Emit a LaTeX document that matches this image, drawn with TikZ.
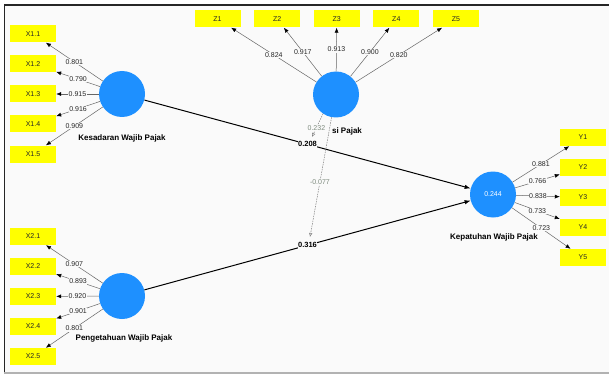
\documentclass[tikz,border=0pt]{standalone}
\usepackage{fontspec}
\setmainfont{Liberation Sans}
\usetikzlibrary{arrows.meta,positioning}

\definecolor{latentblue}{RGB}{30,144,255}
\definecolor{itemyellow}{RGB}{255,255,0}
\definecolor{canvasgray}{RGB}{250,250,250}
\definecolor{modgray}{RGB}{125,138,125}

\begin{document}
\begin{tikzpicture}
        [
            x = 1pt, y = -1pt,
            boxed/.style      = {shape=rectangle, fill=itemyellow, minimum width=46pt, minimum height=17pt, inner sep=0pt, text=black!85},
            latent/.style     = {shape=circle, fill=latentblue, minimum size=46pt, inner sep=0pt, text=white},
            lvname/.style     = {font=\fontsize{8}{9}\selectfont\bfseries},
            loading/.style    = {draw=black!60, line width=0.5pt, -{Latex[length=5pt,width=4pt,color=black]}},
            loadtext/.style   = {fill=canvasgray, inner sep=0.6pt, text=black!85},
            structural/.style = {draw, line width=1pt, -{Latex[length=6pt,width=4.5pt]}},
            coef/.style       = {fill=canvasgray, inner sep=0.6pt, font=\fontsize{7.5}{9}\selectfont\bfseries},
            moderation/.style = {draw=gray, dash pattern=on 1.5pt off 1pt, line width=0.5pt, -{Latex[open,length=4pt,width=3.5pt]}},
            modcoef/.style    = {fill=canvasgray, inner sep=0.6pt, text=modgray},
            every node/.style = {font=\fontsize{7}{8}\selectfont},
        ]
        \useasboundingbox (0,0) rectangle (609,374);
        % canvas and frame
        \fill [canvasgray] (4.5,4.5) rectangle (609,372.5);
        \draw [black!85, line width=1.8pt] (4,4.7) -- (609,4.7);
        \draw [black!85, line width=1pt] (4.5,4) -- (4.5,373);
        \draw [black!30, line width=1.5pt] (4,373.2) -- (609,373.2);

        % latent variables
        \node [latent] (kesadaran)   at (122,94)    {};
        \node [latent] (pengetahuan) at (122,296)   {};
        \node [latent] (moderator)   at (336,94.5)  {};
        \node [latent] (kepatuhan)   at (493,194.5) {0.244};
        \node [lvname] (kesadaran-name)   at (122,138) {Kesadaran Wajib Pajak};
        \node [lvname] (pengetahuan-name) at (124,338) {Pengetahuan Wajib Pajak};
        \node [lvname] (moderator-name)   at (347,131) {si Pajak};
        \node [lvname] (kepatuhan-name)   at (494,237) {Kepatuhan Wajib Pajak};

        % indicators
        \foreach \i in {1,...,5} {
            \node [boxed] (x1-\i) at (33,{34+30*(\i-1)})      {X1.\i};
            \node [boxed] (x2-\i) at (33,{236.5+30*(\i-1)})   {X2.\i};
            \node [boxed] (z-\i)  at ({217.5+59.6*(\i-1)},19) {Z\i};
            \node [boxed] (y-\i)  at (583,{137.5+30*(\i-1)})  {Y\i};
        }

        % outer loadings
        \foreach \i/\w in {1/0.801, 2/0.790, 3/0.915, 4/0.916, 5/0.909}
            \draw [loading] (kesadaran) -- node [loadtext] {\w} (x1-\i);
        \foreach \i/\w in {1/0.907, 2/0.893, 3/0.920, 4/0.901, 5/0.801}
            \draw [loading] (pengetahuan) -- node [loadtext] {\w} (x2-\i);
        \foreach \i/\w in {1/0.824, 2/0.917, 3/0.913, 4/0.900, 5/0.820}
            \draw [loading] (moderator) -- node [loadtext] {\w} (z-\i);
        \foreach \i/\w in {1/0.881, 2/0.766, 3/0.838, 4/0.733, 5/0.723}
            \draw [loading] (kepatuhan) -- node [loadtext] {\w} (y-\i);

        % inner model
        \draw [structural] (kesadaran) -- node [coef] {0.208} (kepatuhan);
        \draw [structural] (pengetahuan) -- node [coef] {0.316} (kepatuhan);

        % moderating effects
        \coordinate (mod-a) at (312,137);
        \coordinate (mod-b) at (310,237);
        \draw [moderation] (moderator.236) -- node [modcoef, pos=0.6] {0.232} (mod-a);
        \draw [moderation] (moderator.259) -- node [modcoef, pos=0.54] {-0.077} (mod-b);
    \end{tikzpicture}
\end{document}
